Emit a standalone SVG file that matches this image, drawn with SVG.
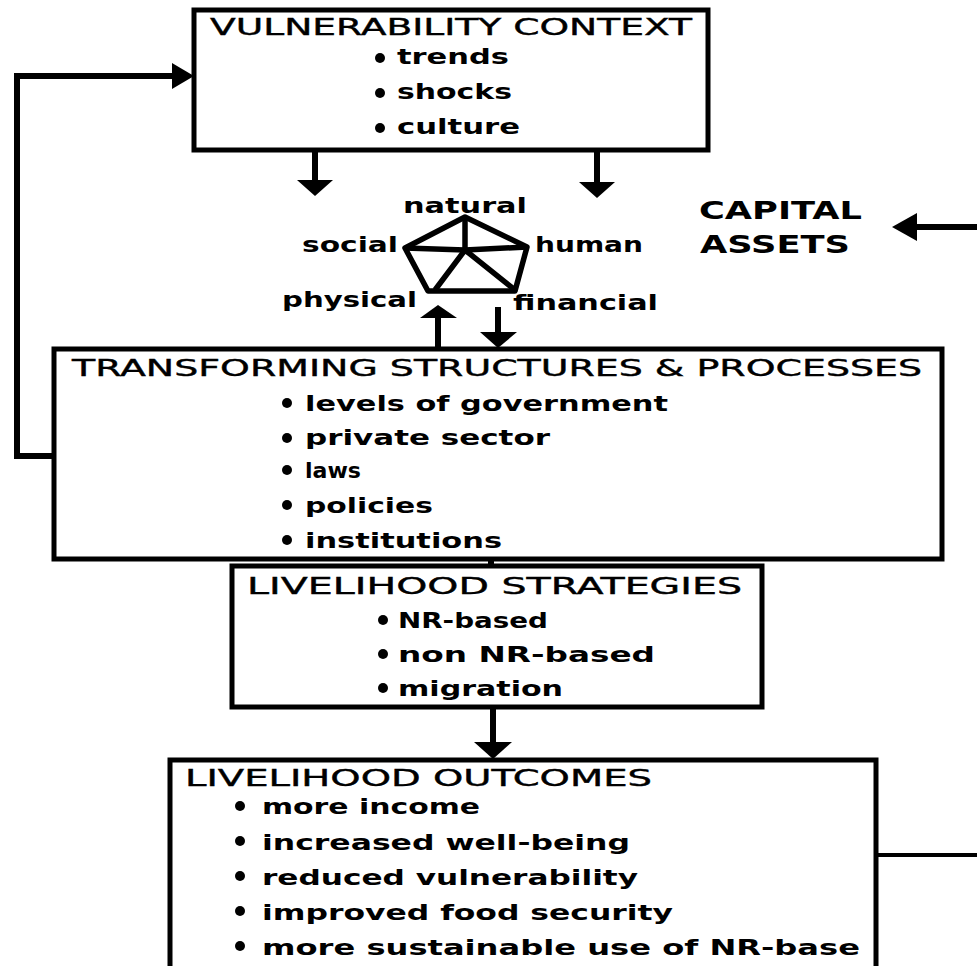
<svg xmlns="http://www.w3.org/2000/svg" width="977" height="966" viewBox="0 0 977 966">
<style>
.box{fill:#fff;stroke:#000;stroke-width:5}
.ln{fill:none;stroke:#000;stroke-width:6;stroke-linejoin:miter}
.thin{fill:none;stroke:#000;stroke-width:4}
.ah{fill:#000}
.t{font-family:"DejaVu Sans","Liberation Sans",sans-serif;font-weight:bold;fill:#000}
.h{font-size:23px;font-weight:normal;stroke:#000;stroke-width:0.4}
.i{font-size:21px}
.cap{font-size:24px}
.dot{fill:#000}
.pent{fill:none;stroke:#000;stroke-width:5.5;stroke-linejoin:round}
</style>
<rect width="977" height="966" fill="#fff"/>
<g id="connectors">
  <polyline class="ln" points="54,456 17,456 17,76 174,76"/>
  <polygon class="ah" points="172,63 194,76 172,89"/>
  <line class="ln" x1="315" y1="150" x2="315" y2="182"/>
  <polygon class="ah" points="297,180 333,180 315,196"/>
  <line class="ln" x1="597" y1="150" x2="597" y2="184"/>
  <polygon class="ah" points="579,182 615,182 597,198"/>
  <line class="ln" x1="438" y1="349" x2="438" y2="316"/>
  <polygon class="ah" points="420,318 457,318 438,305"/>
  <line class="ln" x1="498" y1="307" x2="498" y2="334"/>
  <polygon class="ah" points="480,332 517,332 498,348"/>
  <line class="ln" x1="491" y1="558" x2="491" y2="567"/>
  <line class="ln" x1="493" y1="708" x2="493" y2="744"/>
  <polygon class="ah" points="474,742 512,742 493,759"/>
  <line class="thin" x1="876" y1="855" x2="977" y2="855"/>
  <line class="ln" x1="977" y1="227" x2="915" y2="227"/>
  <polygon class="ah" points="917,213 917,241 892,227"/>
</g>
<g id="vulnerability">
  <rect class="box" x="194" y="10" width="514" height="140"/>
  <text class="t h" x="210" y="35" textLength="482" lengthAdjust="spacingAndGlyphs">VULNERABILITY CONTEXT</text>
  <circle class="dot" cx="380" cy="58" r="5"/>
  <text class="t i" x="397" y="64" textLength="112" lengthAdjust="spacingAndGlyphs">trends</text>
  <circle class="dot" cx="380" cy="93" r="5"/>
  <text class="t i" x="397" y="99" textLength="115" lengthAdjust="spacingAndGlyphs">shocks</text>
  <circle class="dot" cx="380" cy="128" r="5"/>
  <text class="t i" x="397" y="134" textLength="123" lengthAdjust="spacingAndGlyphs">culture</text>
</g>
<g id="capital-assets">
  <polygon class="pent" points="465,217 527,247 515,291 428,291 405,248"/>
  <polyline class="pent" points="465,217 465,250"/>
  <polyline class="pent" points="405,248 465,250 527,247"/>
  <polyline class="pent" points="435,290 465,250 515,290"/>
  <text class="t i" x="403" y="213" textLength="124" lengthAdjust="spacingAndGlyphs">natural</text>
  <text class="t i" x="302" y="252" textLength="96" lengthAdjust="spacingAndGlyphs">social</text>
  <text class="t i" x="535" y="252" textLength="108" lengthAdjust="spacingAndGlyphs">human</text>
  <text class="t i" x="282" y="307" textLength="135" lengthAdjust="spacingAndGlyphs">physical</text>
  <text class="t i" x="513" y="310" textLength="145" lengthAdjust="spacingAndGlyphs">financial</text>
  <text class="t cap" x="699" y="219" textLength="163" lengthAdjust="spacingAndGlyphs">CAPITAL</text>
  <text class="t cap" x="700" y="253" textLength="150" lengthAdjust="spacingAndGlyphs">ASSETS</text>
</g>
<g id="transforming">
  <rect class="box" x="54" y="349" width="888" height="210"/>
  <text class="t h" x="72" y="376" textLength="850" lengthAdjust="spacingAndGlyphs">TRANSFORMING STRUCTURES &amp; PROCESSES</text>
  <circle class="dot" cx="287" cy="403" r="5"/>
  <text class="t i" x="305" y="411" textLength="363" lengthAdjust="spacingAndGlyphs">levels of government</text>
  <circle class="dot" cx="287" cy="438" r="5"/>
  <text class="t i" x="305" y="445" textLength="245" lengthAdjust="spacingAndGlyphs">private sector</text>
  <circle class="dot" cx="287" cy="470" r="5"/>
  <text class="t i" x="305" y="478" textLength="56" lengthAdjust="spacingAndGlyphs">laws</text>
  <circle class="dot" cx="287" cy="505" r="5"/>
  <text class="t i" x="305" y="513" textLength="128" lengthAdjust="spacingAndGlyphs">policies</text>
  <circle class="dot" cx="287" cy="540" r="5"/>
  <text class="t i" x="305" y="548" textLength="197" lengthAdjust="spacingAndGlyphs">institutions</text>
</g>
<g id="strategies">
  <rect class="box" x="232" y="566" width="530" height="141"/>
  <text class="t h" x="247" y="594" textLength="495" lengthAdjust="spacingAndGlyphs">LIVELIHOOD STRATEGIES</text>
  <circle class="dot" cx="383" cy="620" r="5"/>
  <text class="t i" x="398" y="628" textLength="150" lengthAdjust="spacingAndGlyphs">NR-based</text>
  <circle class="dot" cx="383" cy="654" r="5"/>
  <text class="t i" x="398" y="662" textLength="257" lengthAdjust="spacingAndGlyphs">non NR-based</text>
  <circle class="dot" cx="383" cy="688" r="5"/>
  <text class="t i" x="398" y="696" textLength="165" lengthAdjust="spacingAndGlyphs">migration</text>
</g>
<g id="outcomes">
  <rect class="box" x="170" y="760" width="706" height="220"/>
  <text class="t h" x="185" y="786" textLength="467" lengthAdjust="spacingAndGlyphs">LIVELIHOOD OUTCOMES</text>
  <circle class="dot" cx="240" cy="806" r="5"/>
  <text class="t i" x="262" y="814" textLength="218" lengthAdjust="spacingAndGlyphs">more income</text>
  <circle class="dot" cx="240" cy="841" r="5"/>
  <text class="t i" x="262" y="850" textLength="368" lengthAdjust="spacingAndGlyphs">increased well-being</text>
  <circle class="dot" cx="240" cy="876" r="5"/>
  <text class="t i" x="262" y="885" textLength="376" lengthAdjust="spacingAndGlyphs">reduced vulnerability</text>
  <circle class="dot" cx="240" cy="911" r="5"/>
  <text class="t i" x="262" y="920" textLength="411" lengthAdjust="spacingAndGlyphs">improved food security</text>
  <circle class="dot" cx="240" cy="946" r="5"/>
  <text class="t i" x="262" y="955" textLength="598" lengthAdjust="spacingAndGlyphs">more sustainable use of NR-base</text>
</g>
</svg>
